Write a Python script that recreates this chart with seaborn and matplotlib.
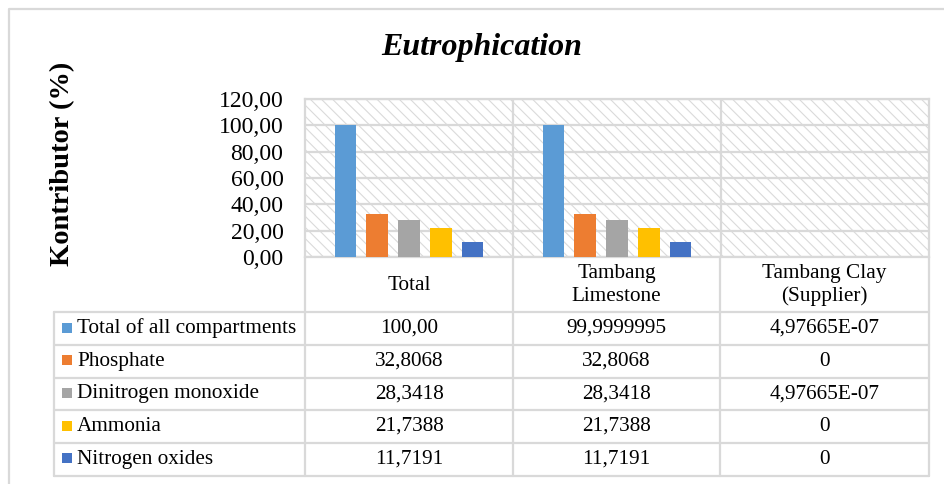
import matplotlib
matplotlib.use("Agg")
import matplotlib.pyplot as plt
import seaborn as sns
import pandas as pd
from matplotlib.patches import Rectangle

# ---- data -------------------------------------------------------------
categories = ["Total", "Tambang\nLimestone", "Tambang Clay\n(Supplier)"]
series = ["Total of all compartments", "Phosphate", "Dinitrogen monoxide",
          "Ammonia", "Nitrogen oxides"]
total_vals = ["100,00", "32,8068", "28,3418", "21,7388", "11,7191"]
limestone_vals = ["99,9999995", "32,8068", "28,3418", "21,7388", "11,7191"]
clay_vals = ["4,97665E-07", "0", "4,97665E-07", "0", "0"]
y_ticks = [0, 20, 40, 60, 80, 100, 120]
colors = ["#5B9BD5", "#ED7D31", "#A5A5A5", "#FFC000", "#4472C4"]

table_text = [total_vals, limestone_vals, clay_vals]


def to_num(s):
    return float(s.replace(",", "."))


rows = []
for cat, col in zip(categories, table_text):
    for name, txt in zip(series, col):
        rows.append({"cat": cat, "series": name, "value": to_num(txt)})
df = pd.DataFrame(rows)

# ---- figure ------------------------------------------------------------
sns.set_theme(style="white")
plt.rcParams["font.family"] = ["Liberation Serif", "DejaVu Serif"]
plt.rcParams["text.color"] = "black"
plt.rcParams["hatch.linewidth"] = 0.8
plt.rcParams["hatch.color"] = "#dadada"

W, H = 944, 484
fig = plt.figure(figsize=(W / 100, H / 100), dpi=100)

# plot area in pixel units
px_l, px_r, px_t, px_b = 305, 929, 99, 257
ax = fig.add_axes([px_l / W, 1 - px_b / H, (px_r - px_l) / W, (px_b - px_t) / H])

# hatched background
ax.add_patch(Rectangle((0, 0), 1, 1, transform=ax.transAxes, facecolor="white",
                       edgecolor="#dadada", hatch="\\\\\\", lw=0, zorder=0))

sns.barplot(data=df, x="cat", y="value", hue="series", palette=colors,
            width=0.763, gap=0.31, ax=ax, legend=False, saturation=1,
            zorder=3, linewidth=0)

ax.set_ylim(0, 120)
ax.set_xlim(-0.5, len(categories) - 0.5)
ax.set_yticks(y_ticks)
ax.set_yticklabels([f"{v:.2f}".replace(".", ",") for v in y_ticks],
                   fontsize=17, color="black")
ax.set_xticks([])
ax.set_xlabel("")
ax.set_ylabel("")
ax.tick_params(axis="y", length=0, pad=15.5)
grid_c = "#d9d9d9"
for v in y_ticks:
    ax.axhline(v, color=grid_c, lw=1.6, zorder=1)
for k in range(len(categories) - 1):
    ax.axvline(k + 0.5, color=grid_c, lw=1.6, zorder=1)
for s in ax.spines.values():
    s.set_color(grid_c)
    s.set_linewidth(1.6)

# ---- overlay for title, frame and data table ---------------------------
ov = fig.add_axes([0, 0, 1, 1], facecolor="none")
ov.set_xlim(0, W)
ov.set_ylim(H, 0)
ov.axis("off")

# outer chart frame
ov.plot([9, 9, W], [H, 9, 9], color="#d9d9d9", lw=1.6)

ov.text(482, 48, "Eutrophication", ha="center", va="center", fontsize=23,
        fontweight="bold", fontstyle="italic", color="black")
ov.text(63, 164, "Kontributor (%)", ha="center", va="center", fontsize=20.5,
        fontweight="bold", rotation=90, color="black")

col_x = [54, 305, 513, 720, 929]
row_y = [312, 345, 377.5, 410, 443, 475.5]
lc = "#d9d9d9"
lw = 1.6
# header cells (categories)
ov.plot([305, 305], [257, 312], color=lc, lw=lw)
for x in col_x[2:]:
    ov.plot([x, x], [257, row_y[-1]], color=lc, lw=lw)
for cx0, cx1, cat in zip(col_x[1:-1], col_x[2:], categories):
    ov.text((cx0 + cx1) / 2, 285, cat, ha="center", va="center", fontsize=15.3,
            linespacing=1.25, color="black")
# body rows
for y in row_y:
    ov.plot([col_x[0], col_x[-1]], [y, y], color=lc, lw=lw)
for x in col_x[:2]:
    ov.plot([x, x], [row_y[0], row_y[-1]], color=lc, lw=lw)
for i, (name, c) in enumerate(zip(series, colors)):
    yc = (row_y[i] + row_y[i + 1]) / 2
    ov.add_patch(Rectangle((62, yc - 6), 10, 10, facecolor=c, edgecolor="none"))
    ov.text(77, yc, name, ha="left", va="center", fontsize=15.3, color="black")
    for j, col in enumerate(table_text):
        ov.text((col_x[j + 1] + col_x[j + 2]) / 2, yc, col[i], ha="center",
                va="center", fontsize=15.3, color="black")

fig.savefig("out.png", dpi=100)
